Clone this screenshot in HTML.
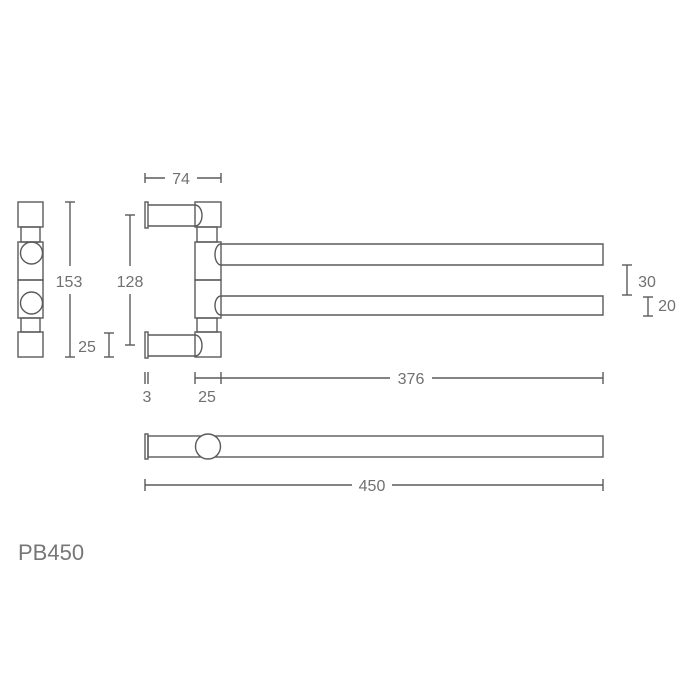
<!DOCTYPE html>
<html><head><meta charset="utf-8"><style>
html,body{margin:0;padding:0;background:#fff;}
svg{display:block;}
text{font-family:"Liberation Sans",sans-serif;fill:#707070;font-size:16px;}
</style></head><body>
<svg width="700" height="700" viewBox="0 0 700 700" xmlns="http://www.w3.org/2000/svg">
<g fill="none" stroke="#5a5a5a" stroke-width="1.4">
<rect x="18" y="202" width="25" height="25"/>
<rect x="21" y="227" width="19" height="15"/>
<rect x="18" y="242" width="25" height="38"/>
<rect x="18" y="280" width="25" height="38"/>
<rect x="21" y="318" width="19" height="14"/>
<rect x="18" y="332" width="25" height="25"/>
<circle cx="31.5" cy="253" r="11"/>
<circle cx="31.5" cy="303" r="11"/>
<line x1="70" y1="202" x2="70" y2="266"/><line x1="70" y1="294" x2="70" y2="357"/>
<line x1="65" y1="202" x2="75" y2="202"/><line x1="65" y1="357" x2="75" y2="357"/>
<line x1="130" y1="215" x2="130" y2="266"/><line x1="130" y1="294" x2="130" y2="345"/>
<line x1="125" y1="215" x2="135" y2="215"/><line x1="125" y1="345" x2="135" y2="345"/>
<line x1="109" y1="333" x2="109" y2="357"/><line x1="104" y1="333" x2="114" y2="333"/><line x1="104" y1="357" x2="114" y2="357"/>
<rect x="145" y="202" width="3" height="26"/>
<path d="M148 205 H195 A7 10.5 0 0 1 195 226 H148"/>
<rect x="145" y="332" width="3" height="26"/>
<path d="M148 335 H195 A7 10.5 0 0 1 195 356 H148"/>
<rect x="195" y="202" width="26" height="25"/>
<rect x="197" y="227" width="20" height="15"/>
<rect x="195" y="242" width="26" height="38"/>
<rect x="195" y="280" width="26" height="38"/>
<rect x="197" y="318" width="20" height="14"/>
<rect x="195" y="332" width="26" height="25"/>
<path d="M221 244 A6 10.5 0 0 0 221 265"/>
<path d="M221 296 A6 9.5 0 0 0 221 315"/>
<path d="M221 244 H603 V265 H221"/>
<path d="M221 296 H603 V315 H221"/>
<line x1="627" y1="265" x2="627" y2="295"/><line x1="622" y1="265" x2="632" y2="265"/><line x1="622" y1="295" x2="632" y2="295"/>
<line x1="648" y1="297" x2="648" y2="316"/><line x1="643" y1="297" x2="653" y2="297"/><line x1="643" y1="316" x2="653" y2="316"/>
<line x1="145" y1="178" x2="165" y2="178"/><line x1="197" y1="178" x2="221" y2="178"/>
<line x1="145" y1="173" x2="145" y2="183"/><line x1="221" y1="173" x2="221" y2="183"/>
<line x1="145" y1="372" x2="145" y2="384"/><line x1="148" y1="372" x2="148" y2="384"/>
<line x1="195" y1="372" x2="195" y2="384"/><line x1="221" y1="372" x2="221" y2="384"/>
<line x1="195" y1="378" x2="390" y2="378"/><line x1="432" y1="378" x2="603" y2="378"/>
<line x1="603" y1="372" x2="603" y2="384"/>
<rect x="145" y="434" width="3" height="25"/>
<rect x="148" y="436" width="455" height="21"/>
<circle cx="208" cy="446.5" r="12.5" fill="#fff"/>
<line x1="145" y1="485" x2="352" y2="485"/><line x1="392" y1="485" x2="603" y2="485"/>
<line x1="145" y1="479" x2="145" y2="491"/><line x1="603" y1="479" x2="603" y2="491"/>
</g>
<text x="69" y="287" text-anchor="middle">153</text>
<text x="130" y="287" text-anchor="middle">128</text>
<text x="87" y="352" text-anchor="middle">25</text>
<text x="181" y="184" text-anchor="middle">74</text>
<text x="647" y="287" text-anchor="middle">30</text>
<text x="667" y="311" text-anchor="middle">20</text>
<text x="147" y="402" text-anchor="middle">3</text>
<text x="207" y="402" text-anchor="middle">25</text>
<text x="411" y="384" text-anchor="middle">376</text>
<text x="372" y="491" text-anchor="middle">450</text>
<text x="18" y="560" style="font-size:22px;fill:#777">PB450</text>
</svg>
</body></html>
